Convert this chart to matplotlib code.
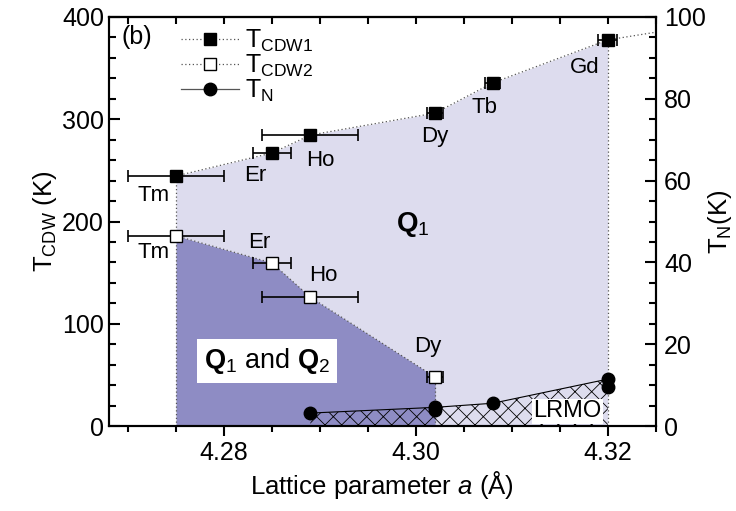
import numpy as np
import pandas as pd
import matplotlib
matplotlib.use('Agg')
import matplotlib.pyplot as plt
from matplotlib.lines import Line2D

plt.rcParams['font.family'] = ['Liberation Sans', 'DejaVu Sans']
plt.rcParams['mathtext.fontset'] = 'custom'
plt.rcParams['mathtext.rm'] = 'Liberation Sans'
plt.rcParams['mathtext.it'] = 'Liberation Sans:italic'
plt.rcParams['mathtext.bf'] = 'Liberation Sans:bold'
plt.rcParams['hatch.linewidth'] = 0.6

# T_CDW1 (filled squares)
cdw1_names = ['Tm', 'Er', 'Ho', 'Dy', 'Tb', 'Gd']
cdw1_x = [4.275, 4.285, 4.289, 4.302, 4.308, 4.320]
cdw1_xerr = [0.005, 0.002, 0.005, 0.0008, 0.0008, 0.0010]
cdw1_y = [244.5, 267, 284.5, 306, 335.5, 377.5]
cdw1_tail_x = [4.320, 4.325]
cdw1_tail_y = [377.5, 385]

# T_CDW2 (open squares)
cdw2_names = ['Tm', 'Er', 'Ho', 'Dy']
cdw2_x = [4.275, 4.285, 4.289, 4.302]
cdw2_xerr = [0.005, 0.002, 0.005, 0.0008]
cdw2_y = [186, 159.5, 126, 48]

# T_N (circles, right axis)
tn_x = [4.289, 4.302, 4.302, 4.308, 4.320, 4.320]
tn_y = [3.2, 4.6, 3.9, 5.6, 11.5, 9.5]

light = '#dddcee'
dark = '#8e8cc4'

fig = plt.figure(figsize=(7.36, 5.11), dpi=100)
ax = fig.add_axes([0.148, 0.166, 0.743, 0.801])
ax2 = ax.twinx()

# phase regions
ax.fill_between(cdw1_x, cdw1_y, 0, color=light, lw=0, zorder=1)
ax.fill_between(cdw2_x, cdw2_y, 0, color=dark, lw=0, zorder=2)

dot = dict(ls=(0, (1, 2)), color='#555555', lw=0.9)
ax.plot(cdw1_x, cdw1_y, zorder=3, **dot)
ax.plot(cdw1_tail_x, cdw1_tail_y, zorder=3, **dot)
ax.plot(cdw2_x, cdw2_y, zorder=3, **dot)
ax.vlines([cdw1_x[0], cdw1_x[-1]], 0, [cdw1_y[0], cdw1_y[-1]], zorder=3, **dot)
ax.vlines([cdw2_x[-1]], 0, [cdw2_y[-1]], zorder=3, **dot)

ax.errorbar(cdw1_x, cdw1_y, xerr=cdw1_xerr, fmt='s', color='k', ms=8,
            capsize=4, elinewidth=1.2, capthick=1.2, zorder=5)
ax.errorbar(cdw2_x, cdw2_y, xerr=cdw2_xerr, fmt='s', mfc='white', mec='k', ecolor='k',
            ms=8, capsize=4, elinewidth=1.2, capthick=1.2, zorder=5)

# labels for elements
off1 = [(-16, -14), (-12, -16), (7, -18), (0, -17), (-6, -18), (-17, -20)]
off2 = [(-16, -12), (-9, 15), (9, 16), (-5, 22)]
for name, x, y, o in zip(cdw1_names, cdw1_x, cdw1_y, off1):
    ax.annotate(name, (x, y), xytext=o, textcoords='offset points',
                ha='center', va='center', fontsize=16, zorder=6)
for name, x, y, o in zip(cdw2_names, cdw2_x, cdw2_y, off2):
    ax.annotate(name, (x, y), xytext=o, textcoords='offset points',
                ha='center', va='center', fontsize=16, zorder=6)

ax.text(4.2997, 197, r'$\mathbf{Q}_{1}$', fontsize=20, ha='center', va='center', zorder=6)
ax.text(4.2845, 64, r'$\mathbf{Q}_{1}$ and $\mathbf{Q}_{2}$', fontsize=19.5, ha='center',
        va='center', zorder=6,
        bbox=dict(facecolor='white', edgecolor='none', pad=5))
ax.text(4.2693, 380, '(b)', fontsize=18, ha='left', va='center')

# Neel temperature / LRMO
df = pd.DataFrame({'x': tn_x, 'y': tn_y})
top = df.groupby('x')['y'].max()
ax2.fill_between(top.index, top.values, 0, facecolor='none', edgecolor='k',
                 hatch='xx', lw=0, zorder=2)
ax2.plot(top.index, top.values, color='k', lw=0.8, zorder=3)
ax2.plot(tn_x, tn_y, 'o', color='k', ms=9, zorder=4)
ax2.text(4.3158, 3.6, 'LRMO', fontsize=17, ha='center', va='center', zorder=5,
         bbox=dict(facecolor='white', edgecolor='none', pad=1))

# axes
ax.set_xlim(4.268, 4.325)
ax.set_ylim(0, 400)
ax2.set_ylim(0, 100)
ax.set_xticks([4.28, 4.30, 4.32])
ax.set_xticklabels(['4.28', '4.30', '4.32'])
ax.set_xticks(np.arange(4.27, 4.326, 0.005), minor=True)
ax.set_yticks([0, 100, 200, 300, 400])
ax.set_yticks(np.arange(0, 401, 20), minor=True)
ax2.set_yticks([0, 20, 40, 60, 80, 100])
ax2.set_yticks(np.arange(0, 101, 5), minor=True)

ax.tick_params(axis='x', which='both', direction='out', top=False, labelsize=18, width=1.5)
ax.tick_params(axis='x', which='major', length=7)
ax.tick_params(axis='x', which='minor', length=4)
ax.tick_params(axis='y', which='both', direction='in', labelsize=18, width=1.5)
ax.tick_params(axis='y', which='major', length=8)
ax.tick_params(axis='y', which='minor', length=5)
ax2.tick_params(axis='y', which='both', direction='in', labelsize=18, width=1.5, pad=6)
ax2.tick_params(axis='y', which='major', length=8)
ax2.tick_params(axis='y', which='minor', length=5)

secx = ax.secondary_xaxis('top')
secx.set_xticks([4.28, 4.30, 4.32])
secx.set_xticks(np.arange(4.27, 4.326, 0.005), minor=True)
secx.tick_params(which='both', direction='in', labeltop=False, width=1.5, length=5)

for a in (ax, ax2):
    for s in a.spines.values():
        s.set_linewidth(1.5)
secx.spines['top'].set_linewidth(1.5)

ax.set_xlabel(r'Lattice parameter $a$ (Å)', fontsize=18.5, labelpad=3)
ax.set_ylabel(r'T$_{\mathrm{CDW}}$ (K)', fontsize=18.5, labelpad=2)
ax2.set_ylabel(r'T$_{\mathrm{N}}$(K)', fontsize=18.5, labelpad=0)

handles = [
    Line2D([], [], ls=(0, (1, 2)), color='#555555', lw=0.9, marker='s', ms=8,
           mfc='k', mec='k'),
    Line2D([], [], ls=(0, (1, 2)), color='#555555', lw=0.9, marker='s', ms=8,
           mfc='white', mec='k'),
    Line2D([], [], ls='-', color='#555555', lw=0.9, marker='o', ms=9,
           mfc='k', mec='k'),
]
labels = [r'T$_{\mathrm{CDW1}}$', r'T$_{\mathrm{CDW2}}$', r'T$_{\mathrm{N}}$']
ax2.legend(handles, labels, loc='upper left', bbox_to_anchor=(0.105, 1.01), frameon=False,
           fontsize=18, handlelength=2.3, labelspacing=-0.05, handletextpad=0.25,
           borderaxespad=0.2)

fig.savefig('out.png', dpi=100)
